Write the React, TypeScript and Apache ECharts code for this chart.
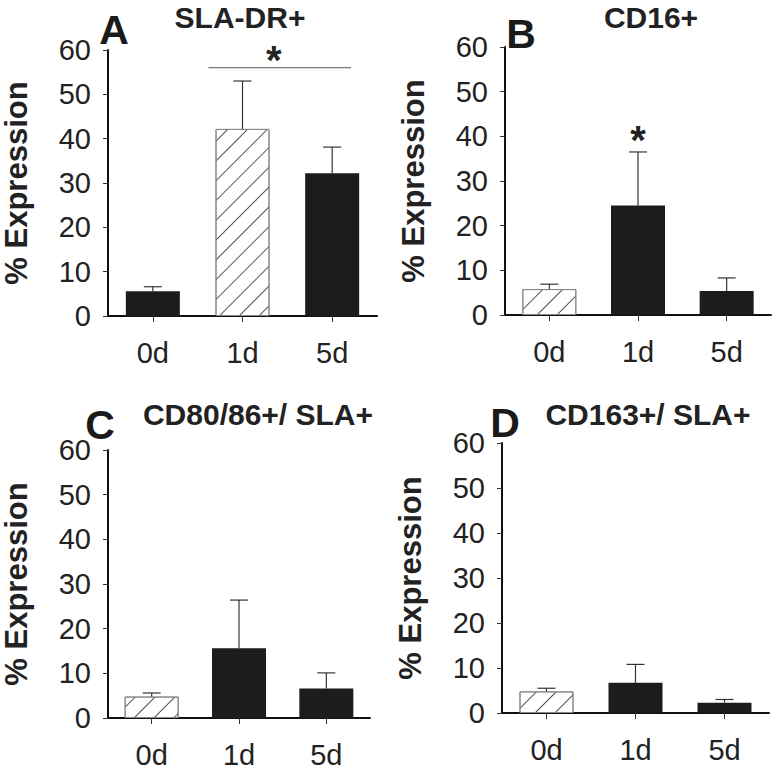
import React, { useEffect, useRef } from "react";
import * as echarts from "echarts";

const categories = ["0d", "1d", "5d"];
const panelTitles = ["SLA-DR+", "CD16+", "CD80/86+/ SLA+", "CD163+/ SLA+"];
const panelLetters = ["A", "B", "C", "D"];

const meanA = [5.6, 42.2, 32.2];
const errA = [6.6, 53.0, 38.1];
const meanB = [5.8, 24.5, 5.4];
const errB = [6.9, 36.5, 8.3];
const meanC = [4.8, 15.6, 6.6];
const errC = [5.6, 26.4, 10.1];
const meanD = [4.8, 6.7, 2.3];
const errD = [5.5, 10.8, 3.0];

const hatchedIndex = [1, 0, 0, 0];

// significance: [panel, fromCategory, toCategory, yValue]
const sigLines = [[0, 1, 2, 56]];
// stars: [panel, categoryPosition, yValue]
const sigStars = [
  [0, 1.35, 57.8],
  [1, 1, 39.2],
];

const FONT = '"Liberation Sans", Arial, sans-serif';

const grids = [
  { left: 105, top: 50, width: 272, height: 266 },
  { left: 505, top: 47, width: 266, height: 268 },
  { left: 100, top: 450, width: 270, height: 269 },
  { left: 502, top: 443, width: 267, height: 270 },
];
const titlePos = [
  [240, 17],
  [651, 17],
  [258, 414],
  [648, 414],
];
const letterPos = [
  [114, 30],
  [521, 34],
  [100, 425],
  [505, 423],
];

export default function App() {
  const ref = useRef<HTMLDivElement>(null);
  useEffect(() => {
    if (!ref.current) return;
    const chart = echarts.init(ref.current, undefined, { renderer: "svg" });
    const means = [meanA, meanB, meanC, meanD];
    const errs = [errA, errB, errC, errD];

    const xAxes = grids.map((_, i) => ({
      type: "category",
      gridIndex: i,
      data: categories,
      axisLine: { show: true, lineStyle: { color: "#111", width: 2 } },
      axisTick: { show: true, alignWithLabel: true, length: 6, lineStyle: { color: "#333", width: 1 } },
      axisLabel: { fontSize: 29, color: "#222", fontFamily: FONT, margin: 22 },
      splitLine: { show: false },
    }));
    const yAxes = grids.map((_, i) => ({
      type: "value",
      gridIndex: i,
      min: 0,
      max: 60,
      interval: 10,
      name: "% Expression",
      nameLocation: "middle",
      nameRotate: 90,
      nameGap: 76,
      nameTextStyle: { fontSize: 31, fontWeight: "bold", color: "#222", fontFamily: FONT },
      axisLine: { show: true, lineStyle: { color: "#111", width: 2 } },
      axisTick: { show: true, length: 5, lineStyle: { color: "#333", width: 1 } },
      axisLabel: { fontSize: 29, color: "#222", fontFamily: FONT, margin: 17 },
      splitLine: { show: false },
    }));

    const series: any[] = [];
    means.forEach((m, i) => {
      series.push({
        type: "bar",
        xAxisIndex: i,
        yAxisIndex: i,
        barWidth: 54,
        data: m.map((v, j) =>
          j === hatchedIndex[i]
            ? {
                value: v,
                itemStyle: {
                  color: "#ffffff",
                  borderColor: "#888",
                  borderWidth: 1,
                  decal: {
                    symbol: "rect",
                    symbolSize: 1,
                    color: "#555",
                    dashArrayX: [1, 0],
                    dashArrayY: [1, 13],
                    rotation: -Math.PI / 4,
                  },
                },
              }
            : { value: v, itemStyle: { color: "#1c1c1c" } }
        ),
        z: 2,
      });
      series.push({
        type: "custom",
        xAxisIndex: i,
        yAxisIndex: i,
        z: 3,
        data: m.map((v, j) => [j, v, errs[i][j]]),
        encode: { x: 0, y: 2 },
        renderItem: (params: any, api: any) => {
          const x = api.value(0);
          const p0 = api.coord([x, api.value(1)]);
          const p1 = api.coord([x, api.value(2)]);
          const st = { stroke: "#333", lineWidth: 1.2 };
          return {
            type: "group",
            children: [
              { type: "line", shape: { x1: p0[0], y1: p0[1], x2: p1[0], y2: p1[1] }, style: st },
              { type: "line", shape: { x1: p1[0] - 9, y1: p1[1], x2: p1[0] + 9, y2: p1[1] }, style: st },
            ],
          };
        },
      });
    });

    sigLines.forEach((s) => {
      series.push({
        type: "custom",
        xAxisIndex: s[0],
        yAxisIndex: s[0],
        z: 3,
        data: [[s[1], s[2], s[3]]],
        encode: { x: [0, 1], y: 2 },
        renderItem: (params: any, api: any) => {
          const band = api.size([1, 0])[0];
          const a = api.coord([api.value(0), api.value(2)]);
          const b = api.coord([api.value(1), api.value(2)]);
          return {
            type: "line",
            shape: { x1: a[0] - 0.38 * band, y1: a[1], x2: b[0] + 0.21 * band, y2: b[1] },
            style: { stroke: "#555", lineWidth: 1 },
          };
        },
      });
    });

    sigStars.forEach((s) => {
      series.push({
        type: "custom",
        xAxisIndex: s[0],
        yAxisIndex: s[0],
        z: 3,
        data: [[s[1], s[2]]],
        encode: { x: 0, y: 1 },
        renderItem: (params: any, api: any) => {
          const pos = api.value(0);
          const base = Math.floor(pos);
          const band = api.size([1, 0])[0];
          const c = api.coord([base, api.value(1)]);
          return {
            type: "text",
            style: {
              text: "*",
              x: c[0] + (pos - base) * band,
              y: c[1],
              textAlign: "center",
              textVerticalAlign: "middle",
              font: `bold 40px ${FONT}`,
              fill: "#222",
            },
          };
        },
      });
    });

    const graphics: any[] = [];
    panelTitles.forEach((t, i) => {
      graphics.push({
        type: "text",
        x: titlePos[i][0],
        y: titlePos[i][1],
        style: {
          text: t,
          textAlign: "center",
          textVerticalAlign: "middle",
          font: `bold 30px ${FONT}`,
          fill: "#222",
        },
      });
      graphics.push({
        type: "text",
        x: letterPos[i][0],
        y: letterPos[i][1],
        style: {
          text: panelLetters[i],
          textAlign: "center",
          textVerticalAlign: "middle",
          font: `bold 41px ${FONT}`,
          fill: "#1a1a1a",
        },
      });
    });

    chart.setOption({
      animation: false,
      backgroundColor: "#ffffff",
      grid: grids,
      xAxis: xAxes,
      yAxis: yAxes,
      series,
      graphic: graphics,
    } as any);
    return () => chart.dispose();
  }, []);
  return (
    <div
      ref={ref}
      style={{ position: "absolute", left: 0, top: 0, width: 778, height: 769 }}
    />
  );
}
